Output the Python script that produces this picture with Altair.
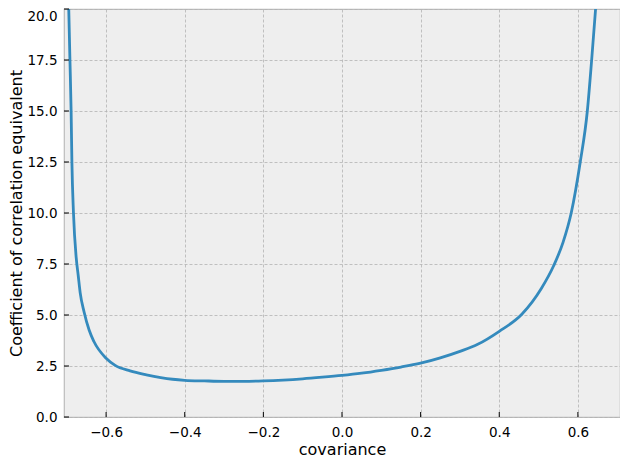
import altair as alt
import pandas as pd

# values
covariance = [-0.695, -0.692, -0.689, -0.687, -0.683, -0.676, -0.671, -0.666,
              -0.656, -0.643, -0.631, -0.600, -0.577, -0.539, -0.4975, -0.431,
              -0.400, -0.350, -0.300, -0.250, -0.200, -0.150, -0.100, -0.050,
              0.000, 0.050, 0.100, 0.150, 0.200, 0.250, 0.300, 0.344,
              0.400, 0.458, 0.507, 0.538, 0.562, 0.583, 0.606, 0.624,
              0.635, 0.645]
coef_equiv = [20.0, 17.5, 15.0, 12.5, 10.0, 7.8, 6.95, 6.1,
              5.15, 4.25, 3.7, 2.88, 2.53, 2.26, 2.07, 1.85,
              1.80, 1.77, 1.75, 1.75, 1.77, 1.81, 1.87, 1.95,
              2.04, 2.15, 2.29, 2.45, 2.64, 2.90, 3.22, 3.55,
              4.2, 5.05, 6.3, 7.4, 8.55, 10.0, 12.5, 15.0,
              17.5, 20.0]

x_ticks = [-0.6, -0.4, -0.2, 0.0, 0.2, 0.4, 0.6]
y_ticks = [0.0, 2.5, 5.0, 7.5, 10.0, 12.5, 15.0, 17.5, 20.0]

W, H = 556, 408

df = pd.DataFrame({"covariance": covariance, "coef": coef_equiv})
xt = pd.DataFrame({"t": x_ticks})
yt = pd.DataFrame({"t": y_ticks})

xscale = alt.Scale(domain=[-0.7071, 0.7071], nice=False, zero=False)
yscale = alt.Scale(domain=[0, 20], nice=False, zero=False)

line = alt.Chart(df).mark_line(
    color="#348ABD", strokeWidth=2.8, interpolate="monotone", clip=True
).encode(
    x=alt.X("covariance:Q", scale=xscale,
            axis=alt.Axis(values=x_ticks, format=".1f", title="covariance")),
    y=alt.Y("coef:Q", scale=yscale,
            axis=alt.Axis(values=y_ticks, format=".1f",
                          title="Coefficient of correlation equivalent",
                          labelBaseline={"condition": {"test": "datum.value >= 20",
                                                       "value": "top"},
                                         "value": "middle"})),
)

xtick_marks = alt.Chart(xt).mark_rule(color="black", strokeWidth=1).encode(
    x=alt.X("t:Q", scale=xscale),
    y=alt.value(H),
    y2=alt.value(H - 5),
)
ytick_marks = alt.Chart(yt).mark_rule(color="black", strokeWidth=1).encode(
    y=alt.Y("t:Q", scale=yscale),
    x=alt.value(0),
    x2=alt.value(5),
)

chart = alt.layer(line, xtick_marks, ytick_marks).properties(
    width=W, height=H,
    padding={"left": 0, "top": 0, "right": 0, "bottom": 0},
    background="white",
).configure_view(
    fill="#eeeeee", stroke="#bcbcbc", strokeWidth=1.2
).configure_axis(
    domain=False,
    ticks=False,
    tickSize=0,
    grid=True,
    gridColor="#b2b2b2",
    gridDash=[3, 2],
    gridWidth=0.8,
    labelFont="DejaVu Sans",
    labelFontSize=13.5,
    labelColor="black",
    titleFont="DejaVu Sans",
    titleFontSize=16,
    titleFontWeight="normal",
    titleColor="black",
).configure_axisX(
    labelPadding=8, titlePadding=3,
).configure_axisY(
    labelPadding=7, titlePadding=2,
)

chart.save("out.html", embed_options={"renderer": "svg", "actions": False})
